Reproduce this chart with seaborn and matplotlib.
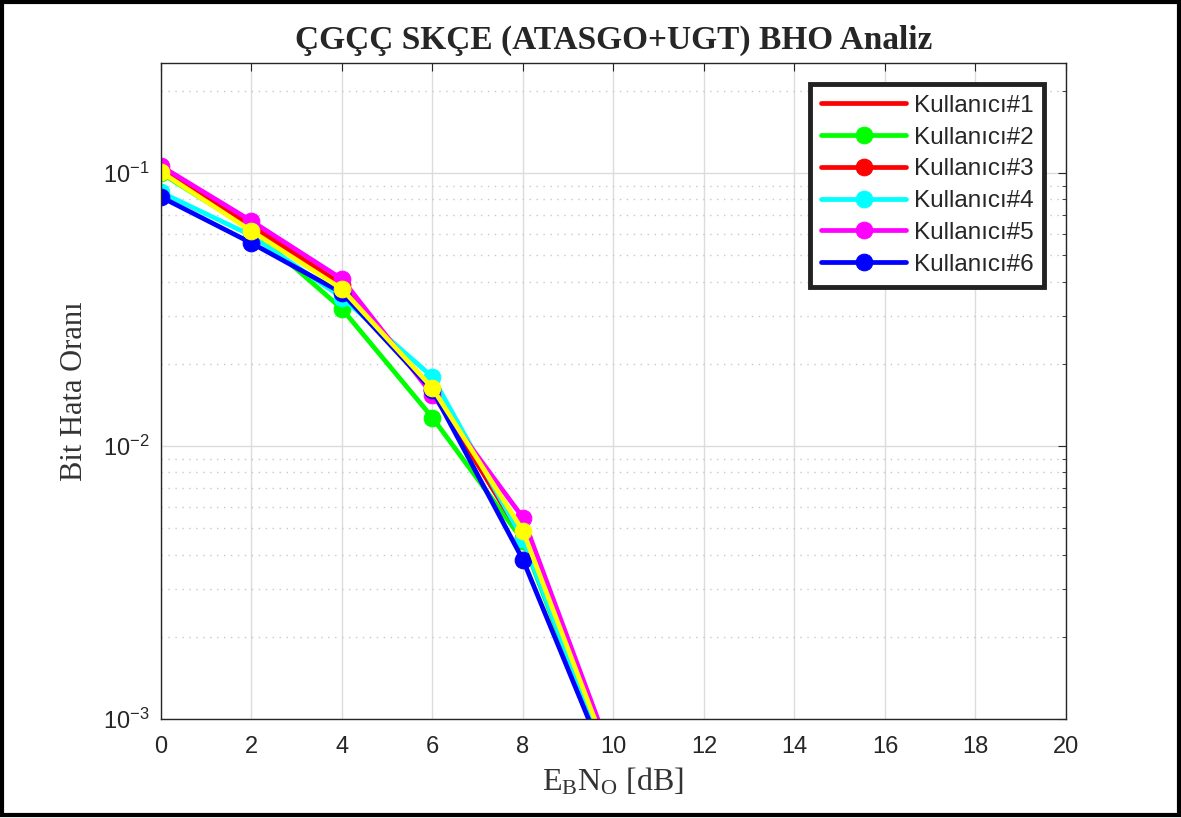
import numpy as np
import pandas as pd
import seaborn as sns
import matplotlib.pyplot as plt
from matplotlib.patches import Rectangle
from matplotlib.ticker import LogLocator, NullFormatter

# Eb/No points and BER per user
ebno = [0, 2, 4, 6, 8, 10]
user1 = [0.104, 0.064, 0.039, 0.0160, 0.00460, 0.00062]
user2 = [0.100, 0.062, 0.0318, 0.0127, 0.00450, 0.00060]
user3 = [0.103, 0.064, 0.039, 0.0160, 0.00460, 0.00062]
user4 = [0.085, 0.059, 0.035, 0.0179, 0.00455, 0.00062]
user5 = [0.106, 0.0667, 0.0409, 0.0154, 0.00546, 0.00070]
user6 = [0.0817, 0.0554, 0.0364, 0.0160, 0.00383, 0.00060]
user7 = [0.101, 0.0613, 0.0376, 0.0163, 0.00489, 0.00066]

series = [
    ('Kullanıcı#1', user1, '#ff0000', None),
    ('Kullanıcı#2', user2, '#00ff00', 'o'),
    ('Kullanıcı#3', user3, '#ff0000', 'o'),
    ('Kullanıcı#4', user4, '#00ffff', 'o'),
    ('Kullanıcı#5', user5, '#ff00ff', 'o'),
    ('Kullanıcı#6', user6, '#0000ff', 'o'),
    ('_nolegend_', user7, '#ffff00', 'o'),
]

sns.set_style('white')
plt.rcParams['font.family'] = ['Liberation Sans', 'DejaVu Sans']
plt.rcParams['mathtext.fontset'] = 'custom'
plt.rcParams['mathtext.rm'] = 'Liberation Serif'
plt.rcParams['mathtext.it'] = 'Liberation Serif'

fig = plt.figure(figsize=(11.81, 8.18), dpi=100)
ax = fig.add_axes([0.1363, 0.121, 0.7663, 0.802])

for name, vals, col, mk in series:
    df = pd.DataFrame({'x': ebno, 'y': vals})
    sns.lineplot(ax=ax, data=df, x='x', y='y', color=col, linewidth=3.4,
                 marker=mk, markersize=12, markeredgecolor=col, label=name)

ax.set_yscale('log')
ax.set_xlim(0, 20)
ax.set_ylim(1e-3, 0.253)
ax.set_xticks(range(0, 21, 2))
ax.yaxis.set_major_locator(LogLocator(base=10, numticks=10))
ax.yaxis.set_minor_locator(LogLocator(base=10, subs=np.arange(2, 10), numticks=20))
ax.yaxis.set_minor_formatter(NullFormatter())
ax.tick_params(axis='both', which='major', labelsize=17, direction='in', length=6,
               top=True, right=True, color='#262626', labelcolor='#262626')
ax.tick_params(axis='x', which='major', pad=12)
ax.tick_params(axis='y', which='major', pad=8)
ax.tick_params(axis='y', which='minor', direction='in', length=3, right=True, color='#262626')
for s in ax.spines.values():
    s.set_color('#262626')
    s.set_linewidth(1)

ax.grid(True, which='major', color='#dcdcdc', linewidth=1)
ax.grid(True, which='minor', axis='y', color='#c8c8c8', linestyle=(0, (1, 4)), linewidth=1)

ax.set_title('ÇGÇÇ SKÇE (ATASGO+UGT) BHO Analiz', fontsize=24, fontweight='bold',
             family='Liberation Serif', pad=10)
ax.set_ylabel('Bit Hata Oranı', fontsize=22, family='Liberation Serif', color='#333333', labelpad=10)
ax.set_xlabel(r'E$_\mathrm{B}$N$_\mathrm{O}$ [dB]', fontsize=23, family='Liberation Serif',
              color='#333333', labelpad=6)

leg = ax.legend(loc='upper right', bbox_to_anchor=(0.976, 0.968), fontsize=17.5,
                frameon=True, fancybox=False, borderaxespad=0, handlelength=3.5,
                labelspacing=0.4, borderpad=0.45, handletextpad=0.3)
leg.get_frame().set_edgecolor('#222222')
leg.get_frame().set_linewidth(3.5)
leg.get_frame().set_alpha(1)

fig.patches.append(Rectangle((0.002, 0.004), 0.996, 0.994, transform=fig.transFigure,
                             fill=False, edgecolor='black', linewidth=3))

fig.savefig('out.png', dpi=100)
